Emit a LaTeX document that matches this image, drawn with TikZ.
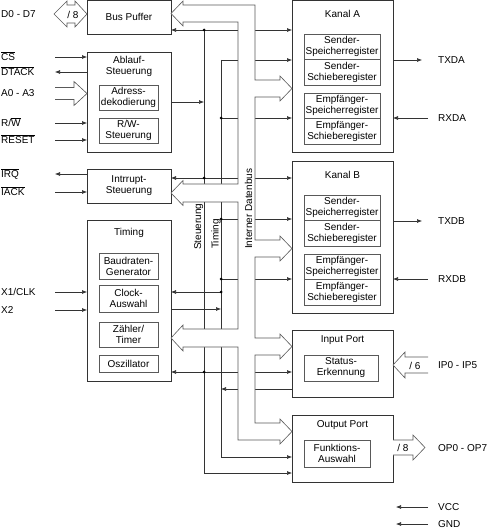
\documentclass[tikz,border=0pt]{standalone}
\usepackage{fontspec}
\setmainfont{Liberation Sans}
\usetikzlibrary{arrows.meta}

\newcommand{\ovl}[1]{$\overline{\mbox{#1}}$}

\begin{document}
\begin{tikzpicture}[x=1pt, y=-1pt, >={Latex[length=5pt, width=4pt]},
        font=\fontsize{10}{11}\selectfont,
        blk/.style={draw=black!80, line width=0.6pt, inner sep=0pt, outer sep=0pt, anchor=north west},
        reg/.style={blk, draw=black!65, align=center},
        sig/.style={draw=black!80, line width=0.6pt},
        wide/.style={draw=black!65, line width=0.6pt, fill=white},
        jn/.style={circle, fill=black, inner sep=0pt, minimum size=3pt},
        lbl/.style={anchor=base west, inner sep=0pt},
        vlbl/.style={anchor=base west, inner sep=0pt, rotate=90}]
    \useasboundingbox (0,0) rectangle (488,529);

    % --- Bloecke links ---
    \node[blk, minimum width=84pt, minimum height=33.5pt] (bp) at (87,0.5) {};
    \node (bpt) at (129,17) {Bus Puffer};

    \node[blk, minimum width=84pt, minimum height=100pt] (ab) at (87,52) {};
    \node[align=center] (abt) at (129,66.5) {Ablauf-\\Steuerung};
    \node[reg, minimum width=59pt, minimum height=25pt] (adr) at (99,85) {Adress-\\dekodierung};
    \node[reg, minimum width=59pt, minimum height=25pt] (rws) at (99,118) {R/W-\\Steuerung};

    \node[blk, minimum width=84pt, minimum height=34pt] (irs) at (87,169) {};
    \node[align=center] (irst) at (129,185.5) {Intrrupt-\\Steuerung};

    \node[blk, minimum width=84pt, minimum height=161pt] (tm) at (87,220) {};
    \node (tmt) at (129,233) {Timing};
    \node[reg, minimum width=59pt, minimum height=26pt] (bdg) at (99,253) {Baudraten-\\Generator};
    \node[reg, minimum width=59pt, minimum height=27pt] (clk) at (99,285) {Clock-\\Auswahl};
    \node[reg, minimum width=59pt, minimum height=25pt] (zt) at (99,322) {Zähler/\\Timer};
    \node[reg, minimum width=59pt, minimum height=17pt] (osz) at (99,355) {Oszillator};

    % --- Kanal A / Kanal B ---
    \foreach \k/\dy in {A/0, B/161} {
        \begin{scope}[shift={(0,\dy)}]
            \node[blk, minimum width=101pt, minimum height=152pt] (kanal\k) at (292,0.5) {};
            \node (kanal\k t) at (342.5,14) {Kanal \k};
            \node[reg, minimum width=76pt, minimum height=25pt] (ss\k) at (304,34) {Sender-\\Speicherregister};
            \node[reg, minimum width=76pt, minimum height=26pt] (sh\k) at (304,59) {Sender-\\Schieberegister};
            \node[reg, minimum width=76pt, minimum height=25pt] (es\k) at (304,93) {Empfänger-\\Speicherregister};
            \node[reg, minimum width=76pt, minimum height=26pt] (eh\k) at (304,118) {Empfänger-\\Schieberegister};
            % TXD / RXD
            \coordinate (ptx\k) at (422,60);
            \coordinate (prx\k) at (428,118);
            \draw[sig,->] (ptx\k -| kanal\k.east) -- (ptx\k);
            \draw[sig,->] (prx\k) -- (prx\k -| kanal\k.east);
            \node[lbl] (ltx\k) at (438,63.5) {TXD\k};
            \node[lbl] (lrx\k) at (438,121.5) {RXD\k};
        \end{scope}
    }

    % --- Ports ---
    \node[blk, minimum width=101pt, minimum height=67pt] (inp) at (292,330) {};
    \node (inpt) at (342.5,340) {Input Port};
    \node[reg, minimum width=74pt, minimum height=26pt] (ste) at (304,355) {Status-\\Erkennung};
    \node[blk, minimum width=101pt, minimum height=67pt] (outp) at (292,415) {};
    \node (outpt) at (342.5,425) {Output Port};
    \node[reg, minimum width=66pt, minimum height=27pt] (fkt) at (304,440) {Funktions-\\Auswahl};

    % --- Anschluesse links ---
    \node[lbl] (ld) at (1,17.5) {D0 - D7};
    \node[lbl] (lcs) at (1,60.5) {\ovl{CS}};
    \node[lbl] (ldt) at (1,75.5) {\ovl{DTACK}};
    \node[lbl] (la) at (1,97) {A0 - A3};
    \node[lbl] (lrw) at (1,126.5) {R/\ovl{W}};
    \node[lbl] (lrs) at (1,143.5) {\ovl{RESET}};
    \node[lbl] (lirq) at (1,177.5) {\ovl{IRQ}};
    \node[lbl] (liack) at (1,195.5) {\ovl{IACK}};
    \node[lbl] (lx1) at (1,295.5) {X1/CLK};
    \node[lbl] (lx2) at (1,313.5) {X2};

    \foreach \nm/\yy in {cs/57, rw/123, rs/140} {
        \coordinate (p\nm) at (55,\yy);
        \draw[sig,->] (p\nm) -- (p\nm -| ab.west);
    }
    \coordinate (pdt) at (55,72);
    \draw[sig,->] (pdt -| ab.west) -- (pdt);
    \coordinate (pirq) at (55,174);
    \draw[sig,->] (pirq -| irs.west) -- (pirq);
    \coordinate (piack) at (55,192);
    \draw[sig,->] (piack) -- (piack -| irs.west);
    \foreach \nm/\yy in {x1/292, x2/310} {
        \coordinate (p\nm) at (55,\yy);
        \draw[sig,->] (p\nm) -- (p\nm -| tm.west);
    }

    % D0-D7 (bidirektional) und A0-A3
    \draw[wide] (54,14) -- (67,1) -- (67,5) -- (75,5) -- (75,1) -- (87,14)
        -- (75,27) -- (75,23) -- (67,23) -- (67,27) -- cycle;
    \node (nd) at (73,14.5) {/ 8};
    \draw[wide] (55,87.5) -- (74,87.5) -- (74,81.5) -- (87,93.5) -- (74,105.5) -- (74,99.5) -- (55,99.5);

    % --- Anschluesse rechts ---
    \draw[wide] (428,357) -- (405,357) -- (405,352) -- (393,365) -- (405,378) -- (405,373) -- (428,373);
    \node (n6) at (415,365.5) {/ 6};
    \node[lbl] (lip) at (438,368.5) {IP0 - IP5};
    \draw[wide] (393,440) -- (413,440) -- (413,435) -- (425,447.5) -- (413,460) -- (413,455) -- (393,455);
    \node (n8) at (403,448) {/ 8};
    \node[lbl] (lop) at (438,451) {OP0 - OP7};

    \coordinate (pvcc) at (428,507);
    \coordinate (evcc) at (396,507);
    \coordinate (pgnd) at (428,524);
    \coordinate (egnd) at (396,524);
    \draw[sig,->] (pvcc) -- (evcc);
    \draw[sig,->] (pgnd) -- (egnd);
    \node[lbl] (lvcc) at (438,510.5) {VCC};
    \node[lbl] (lgnd) at (438,527.5) {GND};

    % --- Steuerung ---
    \coordinate (cA) at (204,30);
    \coordinate (cB) at (204,102);
    \coordinate (cC) at (204,178);
    \coordinate (cD) at (204,372);
    \draw[sig,->] (cA) |- (outp.west |- 0,473);
    \draw[sig,->] (cA) -- (cA -| bp.east);
    \draw[sig,->] (cA) -- (cA -| kanalA.west);
    \draw[sig,->] (cB -| ab.east) -- (cB);
    \draw[sig,->] (cC) -- (cC -| irs.east);
    \draw[sig,->] (cC) -- (cC -| kanalB.west);
    \draw[sig,->] (cD) -- (cD -| tm.east);
    \draw[sig,->] (cD) -- (cD -| inp.west);

    % --- Timing ---
    \coordinate (tA) at (221,60);
    \coordinate (tB) at (221,118);
    \coordinate (tC) at (221,219);
    \coordinate (tD) at (221,279);
    \coordinate (tE) at (221,292);
    \coordinate (tF) at (221,309);
    \coordinate (tG) at (221,389);
    \draw[sig,->] (tA) |- (outp.west |- 0,457);
    \draw[sig,->] (tA) -- (tA -| kanalA.west);
    \draw[sig,->] (tB) -- (tB -| kanalA.west);
    \draw[sig,->] (tC) -- (tC -| kanalB.west);
    \draw[sig,->] (tD) -- (tD -| kanalB.west);
    \draw[sig,->] (tE) -- (tE -| tm.east);
    \draw[sig,->] (tF -| tm.east) -- (tF);
    \draw[sig,->] (tG -| inp.west) -- (tG);

    \foreach \p in {cA, cC, cD, tB, tC, tD, tE}
        \node[jn] (j\p) at (\p) {};

    % --- Interner Datenbus ---
    \draw[wide] (171,13.5) -- (183,1) -- (183,5) -- (255,5)
        -- (255,80) -- (280,80) -- (280,76) -- (292,88.5) -- (280,101) -- (280,97) -- (255,97)       % Kanal A
        -- (255,240) -- (280,240) -- (280,236) -- (292,248.5) -- (280,261) -- (280,257) -- (255,257) % Kanal B
        -- (255,338) -- (280,338) -- (280,334) -- (292,346.5) -- (280,359) -- (280,355) -- (255,355) % Input Port
        -- (255,423) -- (280,423) -- (280,419) -- (292,431.5) -- (280,444) -- (280,440) -- (238,440) % Output Port
        -- (238,347) -- (183,347) -- (183,351) -- (171,338) -- (183,325) -- (183,329) -- (238,329)   % Zaehler
        -- (238,202) -- (183,202) -- (183,205.5) -- (171,193) -- (183,180.5) -- (183,184) -- (238,184) % Interrupt
        -- (238,22) -- (183,22) -- (183,26) -- cycle;

    \node[vlbl] (vst) at (201,250) {Steuerung};
    \node[vlbl] (vtm) at (218.5,249) {Timing};
    \node[vlbl] (vdb) at (252,249) {Interner Datenbus};
\end{tikzpicture}
\end{document}
